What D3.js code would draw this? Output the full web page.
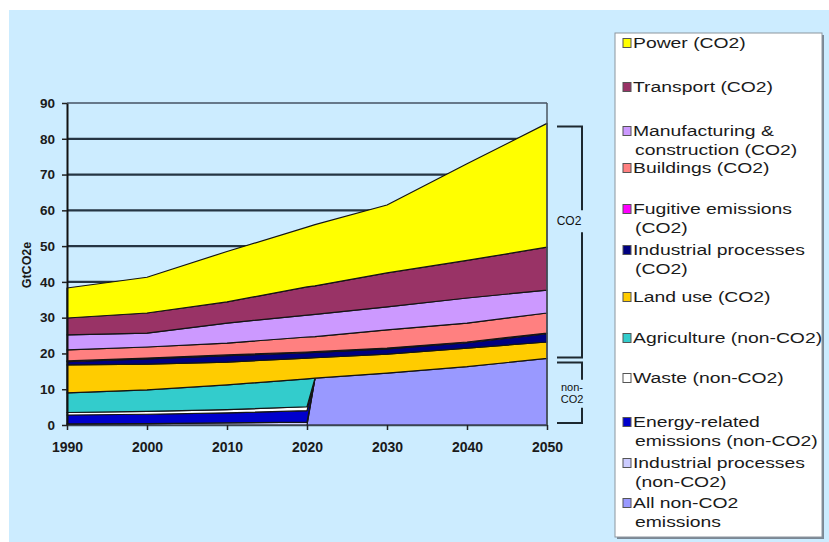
<!DOCTYPE html>
<html>
<head>
<meta charset="utf-8">
<script src="https://cdn.jsdelivr.net/npm/d3@7"></script>
<style>
  body { margin: 0; background: #fff; }
  svg { display: block; font-family: "Liberation Sans", Arial, sans-serif; }
</style>
</head>
<body>
<div id="chart"></div>
<script>
// ---- data (GtCO2e) ----
var years = [1990, 2000, 2010, 2020, 2021, 2030, 2040, 2050];
var decadeTicks = [1990, 2000, 2010, 2020, 2030, 2040, 2050];
var yTicks = [0, 10, 20, 30, 40, 50, 60, 70, 80, 90];

// legend order (top of the stack first)
var seriesNames = [
  "Power (CO2)",
  "Transport (CO2)",
  "Manufacturing &\nconstruction (CO2)",
  "Buildings (CO2)",
  "Fugitive emissions\n(CO2)",
  "Industrial processes\n(CO2)",
  "Land use (CO2)",
  "Agriculture (non-CO2)",
  "Waste (non-CO2)",
  "Energy-related\nemissions (non-CO2)",
  "Industrial processes\n(non-CO2)",
  "All non-CO2\nemissions"
];
var seriesColors = ["#FFFF00", "#993366", "#CC99FF", "#FF8080", "#FF00FF", "#000080",
                    "#FFCC00", "#33CCCC", "#FFFFFF", "#0000CC", "#CCCCFF", "#9999FF"];

var power         = [8.4, 10.0, 14.1, 16.7, 17.1, 19.0, 27.0, 34.6];
var transport     = [4.7, 5.6, 5.9, 7.9, 8.0, 9.5, 10.5, 12.0];
var manufacturing = [4.2, 3.9, 5.6, 6.1, 6.2, 6.4, 7.0, 6.4];
var buildings     = [3.1, 3.1, 3.3, 4.2, 4.2, 5.1, 5.3, 5.6];
var fugitive      = [0.2, 0.2, 0.2, 0.2, 0.2, 0.2, 0.2, 0.2];
var indProcCO2    = [0.9, 1.5, 1.8, 1.5, 1.5, 1.5, 1.5, 2.3];
var landUse       = [7.8, 7.2, 6.4, 5.8, 5.7, 5.3, 5.2, 4.6];
var agriculture   = [5.5, 6.0, 6.9, 7.8, 0, 0, 0, 0];
var waste         = [0.7, 0.8, 0.9, 1.1, 0, 0, 0, 0];
var energyNonCO2  = [2.5, 2.6, 2.8, 3.2, 0, 0, 0, 0];
var indProcNonCO2 = [0.3, 0.4, 0.6, 0.8, 0, 0, 0, 0];
var allNonCO2     = [0, 0, 0, 0, 13.1, 14.5, 16.3, 18.6];

var seriesValues = [power, transport, manufacturing, buildings, fugitive, indProcCO2,
                    landUse, agriculture, waste, energyNonCO2, indProcNonCO2, allNonCO2];
var nonCO2Split = [false, false, false, false, false, false, false, true, true, true, true, false];

// ---- layout ----
var svgWidth = 829, svgHeight = 542;
var plot = { left: 67, right: 547, top: 103, bottom: 425 };

var svg = d3.select("#chart").append("svg")
  .attr("width", svgWidth)
  .attr("height", svgHeight);

svg.append("rect")
  .attr("x", 9).attr("y", 10)
  .attr("width", svgWidth - 9).attr("height", svgHeight - 10)
  .attr("fill", "#CCECFF");

var x = d3.scaleLinear().domain([1990, 2050]).range([plot.left, plot.right]);
var y = d3.scaleLinear().domain([0, 90]).range([plot.bottom, plot.top]);

// table for the stack
var table = years.map(function(yr, i) {
  var row = { year: yr };
  seriesNames.forEach(function(n, k) { row[n] = seriesValues[k][i]; });
  return row;
});
var keys = seriesNames.slice().reverse();   // bottom of the stack first
var stacked = d3.stack().keys(keys)(table);

// gridlines
svg.append("g").selectAll("line")
  .data(yTicks.filter(function(t) { return t > 0; }))
  .enter().append("line")
  .attr("x1", plot.left).attr("x2", plot.right)
  .attr("y1", function(d) { return y(d); })
  .attr("y2", function(d) { return y(d); })
  .attr("stroke", function(d) { return d === 90 ? "#66788a" : "#253543"; })
  .attr("stroke-width", 2.2);

// areas
var areaGroup = svg.append("g");
stacked.forEach(function(layer) {
  var idx = seriesNames.indexOf(layer.key);
  var area = d3.area()
    .defined(function(d) {
      if (nonCO2Split[idx]) return d.data.year <= 2021;
      if (layer.key === "All non-CO2\nemissions") return d.data.year >= 2020;
      return true;
    })
    .x(function(d) { return x(d.data.year); })
    .y0(function(d) { return y(d[0]); })
    .y1(function(d) { return y(d[1]); });
  areaGroup.append("path")
    .datum(layer)
    .attr("d", area)
    .attr("fill", seriesColors[idx])
    .attr("stroke", "#141414")
    .attr("stroke-width", 1.2)
    .attr("stroke-linejoin", "round");
});

// right border of the plot area
svg.append("line")
  .attr("x1", plot.right).attr("x2", plot.right)
  .attr("y1", plot.top).attr("y2", plot.bottom)
  .attr("stroke", "#4a5660").attr("stroke-width", 1.5);

// axes
var yAxis = svg.append("g")
  .attr("transform", "translate(" + plot.left + ",0)")
  .call(d3.axisLeft(y).tickValues(yTicks).tickSize(5).tickSizeOuter(0).tickPadding(7));
yAxis.select(".domain").attr("stroke", "#111").attr("stroke-width", 2);
yAxis.selectAll(".tick line").attr("stroke", "#222").attr("stroke-width", 1.5);
yAxis.selectAll("text")
  .attr("font-size", 13.5).attr("font-weight", "bold").attr("fill", "#1a1a1a")
  .attr("font-family", "Liberation Sans, Arial, sans-serif");

var xAxis = svg.append("g")
  .attr("transform", "translate(0," + plot.bottom + ")")
  .call(d3.axisBottom(x).tickValues(decadeTicks).tickFormat(d3.format("d"))
    .tickSize(5).tickSizeOuter(0).tickPadding(12));
xAxis.select(".domain").attr("stroke", "#3a4650").attr("stroke-width", 1.5);
xAxis.selectAll(".tick line").attr("stroke", "#222").attr("stroke-width", 1.5);
xAxis.selectAll("text")
  .attr("font-size", 14).attr("font-weight", "bold").attr("fill", "#1a1a1a")
  .attr("font-family", "Liberation Sans, Arial, sans-serif");

// y axis title
svg.append("text")
  .attr("transform", "translate(31,265) rotate(-90)")
  .attr("text-anchor", "middle")
  .attr("font-size", 12.5).attr("font-weight", "bold").attr("fill", "#1a1a1a")
  .text("GtCO2e");

// brackets on the right
var lastIdx = years.length - 1;
var total2050 = d3.sum(seriesValues, function(s) { return s[lastIdx]; });
var non2050 = allNonCO2[lastIdx];
var bx0 = 557, bx1 = 582;
var bracketColor = "#1d2830";
var br = svg.append("g").attr("stroke", bracketColor).attr("stroke-width", 2).attr("fill", "none");

var co2Top = y(total2050) + 3, co2Bot = y(non2050) - 1;
var co2Mid = co2Top + 0.41 * (co2Bot - co2Top);
br.append("path").attr("d",
  "M" + bx0 + "," + co2Top + "H" + bx1 + "V" + (co2Mid - 11) +
  "M" + bx1 + "," + (co2Mid + 11) + "V" + co2Bot + "H" + bx0);

var nTop = y(non2050) + 4, nBot = y(0) - 2;
var nMid = (nTop + nBot) / 2;
br.append("path").attr("d",
  "M" + bx0 + "," + nTop + "H" + bx1 + "V" + (nMid - 13) +
  "M" + bx1 + "," + (nMid + 15) + "V" + nBot + "H" + bx0);

svg.append("text")
  .attr("x", 569).attr("y", co2Mid + 4)
  .attr("text-anchor", "middle")
  .attr("font-size", 12).attr("fill", "#111")
  .text("CO2");
svg.append("text")
  .attr("x", 572).attr("y", nMid - 2)
  .attr("text-anchor", "middle")
  .attr("font-size", 11).attr("fill", "#111")
  .text("non-");
svg.append("text")
  .attr("x", 572).attr("y", nMid + 10)
  .attr("text-anchor", "middle")
  .attr("font-size", 11).attr("fill", "#111")
  .text("CO2");

// legend
var lg = { x: 615, y: 33, w: 207, h: 504 };
svg.append("rect")
  .attr("x", lg.x + 2).attr("y", lg.y + 2).attr("width", lg.w).attr("height", lg.h)
  .attr("fill", "#7b8794");
svg.append("rect")
  .attr("x", lg.x).attr("y", lg.y).attr("width", lg.w).attr("height", lg.h)
  .attr("fill", "#fff").attr("stroke", "#8c959e").attr("stroke-width", 1);

var rowY = [43, 87, 131, 168, 209, 250, 297, 338, 378, 422, 463, 503];
var lineH = 19;
var legendItems = svg.append("g").selectAll("g")
  .data(seriesNames)
  .enter().append("g");

legendItems.append("rect")
  .attr("x", 623)
  .attr("y", function(d, i) { return rowY[i] - 4.5; })
  .attr("width", 8).attr("height", 9)
  .attr("fill", function(d, i) { return seriesColors[i]; })
  .attr("stroke", "#555").attr("stroke-width", 1);

legendItems.each(function(d, i) {
  var lines = d.split("\n");
  var g = d3.select(this);
  lines.forEach(function(t, j) {
    g.append("text")
      .attr("transform", "translate(" + (j === 0 ? 633 : 635) + "," + (rowY[i] + 5 + j * lineH) + ") scale(1.29,1)")
      .attr("font-size", 15).attr("fill", "#1a1a1a")
      .text(t);
  });
});
</script>
</body>
</html>
